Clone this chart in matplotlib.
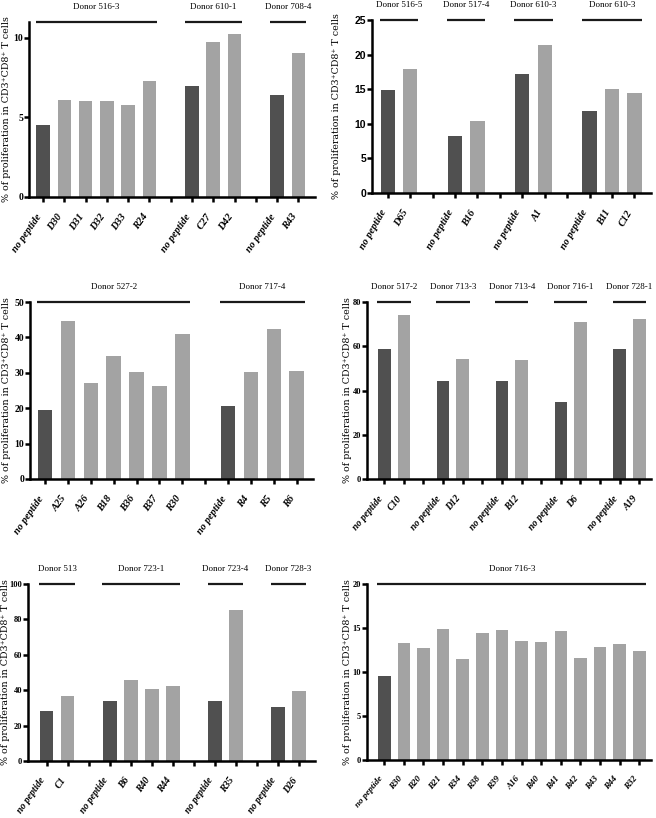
import numpy as np
import matplotlib
matplotlib.use("Agg")
import matplotlib.pyplot as plt
import matplotlib.transforms as mtransforms

plt.rcParams['font.family'] = ['Liberation Serif', 'DejaVu Serif']

DARK = '#505050'
LIGHT = '#a3a3a3'
YLABEL = '% of proliferation in CD3\u207aCD8\u207a T cells'

# panel 1
donors_1 = ['Donor 516-3', 'Donor 610-1', 'Donor 708-4']
labels_1 = [['no peptide', 'D30', 'D31', 'D32', 'D33', 'R24'],
            ['no peptide', 'C27', 'D42'],
            ['no peptide', 'R43']]
values_1 = [[4.51, 6.08, 6.04, 6.04, 5.77, 7.3],
            [6.96, 9.77, 10.27],
            [6.39, 9.08]]

# panel 2
donors_2 = ['Donor 516-5', 'Donor 517-4', 'Donor 610-3', 'Donor 610-3']
labels_2 = [['no peptide', 'D65'], ['no peptide', 'B16'],
            ['no peptide', 'A1'], ['no peptide', 'B11', 'C12']]
values_2 = [[14.86, 17.9], [8.3, 10.38], [17.13, 21.33], [11.92, 15.0, 14.38]]

# panel 3
donors_3 = ['Donor 527-2', 'Donor 717-4']
labels_3 = [['no peptide', 'A25', 'A26', 'B18', 'B36', 'B37', 'R30'],
            ['no peptide', 'R4', 'R5', 'R6']]
values_3 = [[19.4, 44.6, 27.1, 34.8, 30.1, 26.3, 40.9],
            [20.5, 30.1, 42.5, 30.6]]

# panel 4
donors_4 = ['Donor 517-2', 'Donor 713-3', 'Donor 713-4', 'Donor 716-1', 'Donor 728-1']
labels_4 = [['no peptide', 'C10'], ['no peptide', 'D12'], ['no peptide', 'B12'],
            ['no peptide', 'D6'], ['no peptide', 'A19']]
values_4 = [[58.9, 74.3], [44.1, 54.3], [44.1, 53.9], [34.6, 71.1], [58.9, 72.3]]

# panel 5
donors_5 = ['Donor 513', 'Donor 723-1', 'Donor 723-4', 'Donor 728-3']
labels_5 = [['no peptide', 'C1'], ['no peptide', 'B6', 'R40', 'R44'],
            ['no peptide', 'R35'], ['no peptide', 'D26']]
values_5 = [[28.5, 36.8], [34.0, 46.0, 40.6, 42.5], [34.0, 85.1], [30.4, 39.6]]

# panel 6
donors_6 = ['Donor 716-3']
labels_6 = [['no peptide', 'R30', 'B20', 'B21', 'R34', 'R38', 'R39', 'A16',
             'R40', 'R41', 'R42', 'R43', 'R44', 'R32']]
values_6 = [[9.56, 13.25, 12.75, 14.88, 11.46, 14.38, 14.76, 13.47,
             13.36, 14.65, 11.54, 12.83, 13.13, 12.37]]

W, H = 656, 818
fig = plt.figure(figsize=(W / 100, H / 100), dpi=100)
shift = mtransforms.ScaledTranslation(3 / 100, 0, fig.dpi_scale_trans)


def draw(box, donors, labels, values, ytop, ystep, xlim,
         yfs=7, xfs=7.5, rot=55, label_x=6.5, sans_ticks=False):
    l, t, r, b = box
    ax = fig.add_axes([l / W, 1 - b / H, (r - l) / W, (b - t) / H])
    pos = 0
    ticks, ticklabels = [], []
    for g, (donor, labs, vals) in enumerate(zip(donors, labels, values)):
        if g > 0:
            # empty slot between donors
            ticks.append(pos)
            ticklabels.append('')
            pos += 1
        xs = np.arange(pos, pos + len(vals))
        cols = [DARK if lab == 'no peptide' else LIGHT for lab in labs]
        ax.bar(xs, vals, width=0.64, color=cols, zorder=2)
        ticks.extend(xs)
        ticklabels.extend(labs)
        x0, x1 = xs[0] - 0.35, xs[-1] + 0.35
        ax.plot([x0, x1], [ytop, ytop], color='#1a1a1a', lw=1.6,
                solid_capstyle='butt', clip_on=False)
        ax.annotate(donor, xy=((x0 + x1) / 2, ytop), xytext=(0, 11),
                    textcoords='offset points', ha='center', va='center',
                    fontsize=6.5)
        pos += len(vals)
    ax.set_xticks(ticks)
    ax.set_xticklabels(ticklabels, rotation=rot, ha='right', va='top',
                       fontsize=xfs, fontweight='bold', fontstyle='italic')
    for tl in ax.get_xticklabels():
        tl.set_transform(tl.get_transform() + shift)
    ax.set_xlim(*xlim)
    ax.set_ylim(0, ytop)
    ax.set_yticks(np.arange(0, ytop + 0.01, ystep))
    for tl in ax.get_yticklabels():
        tl.set_fontsize(yfs)
        tl.set_fontweight('bold')
        if sans_ticks:
            tl.set_family('Liberation Sans')
    ax.set_ylabel(YLABEL, fontsize=6.8, family=['DejaVu Serif'], va='center')
    ax.yaxis.set_label_coords((label_x - l) / (r - l), 0.5)
    for s in ['top', 'right']:
        ax.spines[s].set_visible(False)
    for s in ['left', 'bottom']:
        ax.spines[s].set_linewidth(1.8)
    ax.tick_params(width=1.8, length=3.8)
    ax.tick_params(axis='y', pad=0.5)
    ax.tick_params(axis='x', pad=7)
    return ax


draw((29, 22, 315, 197), donors_1, labels_1, values_1, 11, 5, (-0.66, 12.78),
     label_x=7)
draw((372, 20, 651, 193), donors_2, labels_2, values_2, 25, 5, (-0.7, 11.74),
     yfs=7.5, rot=60, label_x=337, sans_ticks=True)
draw((30, 302, 313, 479), donors_3, labels_3, values_3, 50, 10, (-0.66, 11.71),
     label_x=6.5)
draw((367, 302, 651, 479), donors_4, labels_4, values_4, 80, 20, (-0.88, 13.6),
     yfs=6, xfs=7, rot=50, label_x=347)
draw((28, 584, 315, 761), donors_5, labels_5, values_5, 100, 20, (-0.89, 12.76),
     yfs=6, xfs=7, label_x=6)
draw((367, 584, 651, 760), donors_6, labels_6, values_6, 20, 5, (-0.88, 13.6),
     yfs=6, xfs=6.5, rot=50, label_x=347)

fig.savefig('out.png', dpi=100)
